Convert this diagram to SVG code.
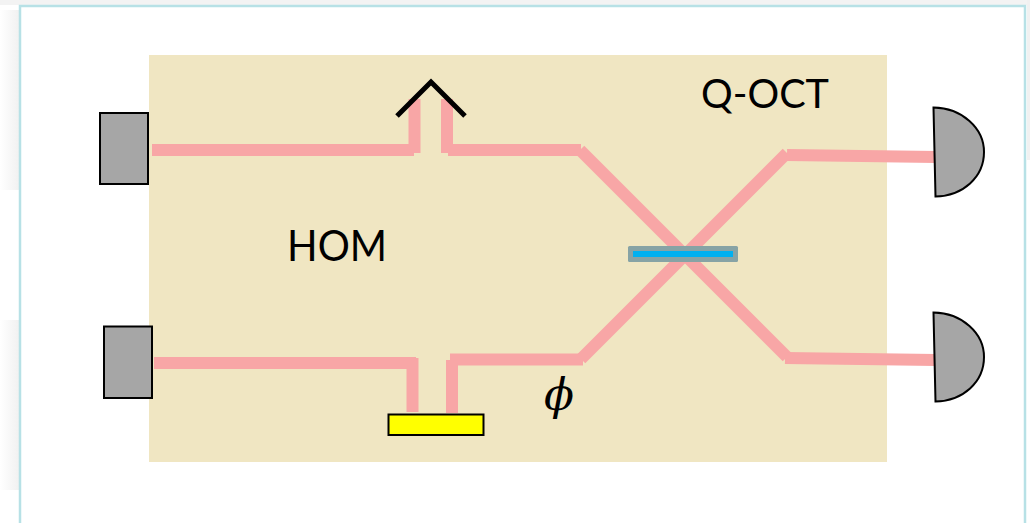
<svg xmlns="http://www.w3.org/2000/svg" width="1030" height="523" viewBox="0 0 1030 523">
<defs>
<linearGradient id="fadeLeft" x1="0" y1="0" x2="1" y2="0"><stop offset="0" stop-color="#ffffff"/><stop offset="1" stop-color="#f1f1f1"/></linearGradient>
</defs>
<style>
.beam{fill:none;stroke:#f8a6a6;stroke-width:12;stroke-linecap:butt;stroke-linejoin:miter}
.dev{fill:#a6a6a6;stroke:#000;stroke-width:2}
.label{font-family:"Lato","Open Sans",sans-serif;fill:#000}
</style>
<rect width="1030" height="523" fill="#ffffff"/>
<g id="backdrop">
<rect x="0" y="0" width="1030" height="5" fill="#f3f3f3"/>
<rect x="0" y="10" width="19" height="180" fill="url(#fadeLeft)"/>
<rect x="0" y="320" width="19" height="170" fill="url(#fadeLeft)"/>
<rect x="1027" y="0" width="3" height="160" fill="#f1f1f1"/>
<rect x="20" y="6" width="1005" height="530" fill="#ffffff" stroke="#b7e1e6" stroke-width="2.500"/>
</g>
<g id="panel"><rect x="149" y="55" width="738" height="407" fill="#f0e6c2"/></g>
<g id="connectors">
<path class="beam" d="M152 150H414"/>
<path class="beam" d="M414.500 99V153"/>
<path class="beam" d="M447 99V153"/>
<path class="beam" d="M448 150H581"/>
<path class="beam" d="M154 363H416"/>
<path class="beam" d="M412.500 358V412"/>
<path class="beam" d="M452 360V413"/>
<path class="beam" d="M450 359.500H583"/>
<path class="beam" d="M580 150L787 357"/>
<path class="beam" d="M581 359L787 153"/>
<path class="beam" d="M787 155L936 157"/>
<path class="beam" d="M785 358L936 360"/>
</g>
<g id="source-top"><rect class="dev" x="100" y="113" width="48" height="71"/></g>
<g id="source-bottom"><rect class="dev" x="104" y="326.500" width="48" height="71.500"/></g>
<g id="mirror"><path d="M397 116L431 82L465 116" fill="none" stroke="#000" stroke-width="5"/></g>
<g id="phase-mirror"><rect x="388.500" y="414.500" width="95" height="20.500" fill="#ffff00" stroke="#000" stroke-width="2"/></g>
<g id="beam-splitter">
<rect x="628" y="246" width="110" height="16" rx="1.500" fill="#87a3a5"/>
<rect x="633" y="251" width="100" height="6" fill="#00b0f0"/>
</g>
<g id="detector-top"><path class="dev" d="M933.500 107.500C962 108 984 128 984 152C984 177 963 196 935.500 196.500Z"/></g>
<g id="detector-bottom"><path class="dev" d="M933.500 312.500C962 313 984 333 984 357C984 382 963 401 935.500 401.500Z"/></g>
<g id="labels">
<text class="label" x="287" y="261" font-size="43" textLength="100" lengthAdjust="spacingAndGlyphs">HOM</text>
<text class="label" x="701" y="108" font-size="41" textLength="128" lengthAdjust="spacingAndGlyphs">Q-OCT</text>
<text x="544" y="410" font-family="'DejaVu Serif',serif" font-style="italic" font-size="44" fill="#000">ϕ</text>
</g>
</svg>
